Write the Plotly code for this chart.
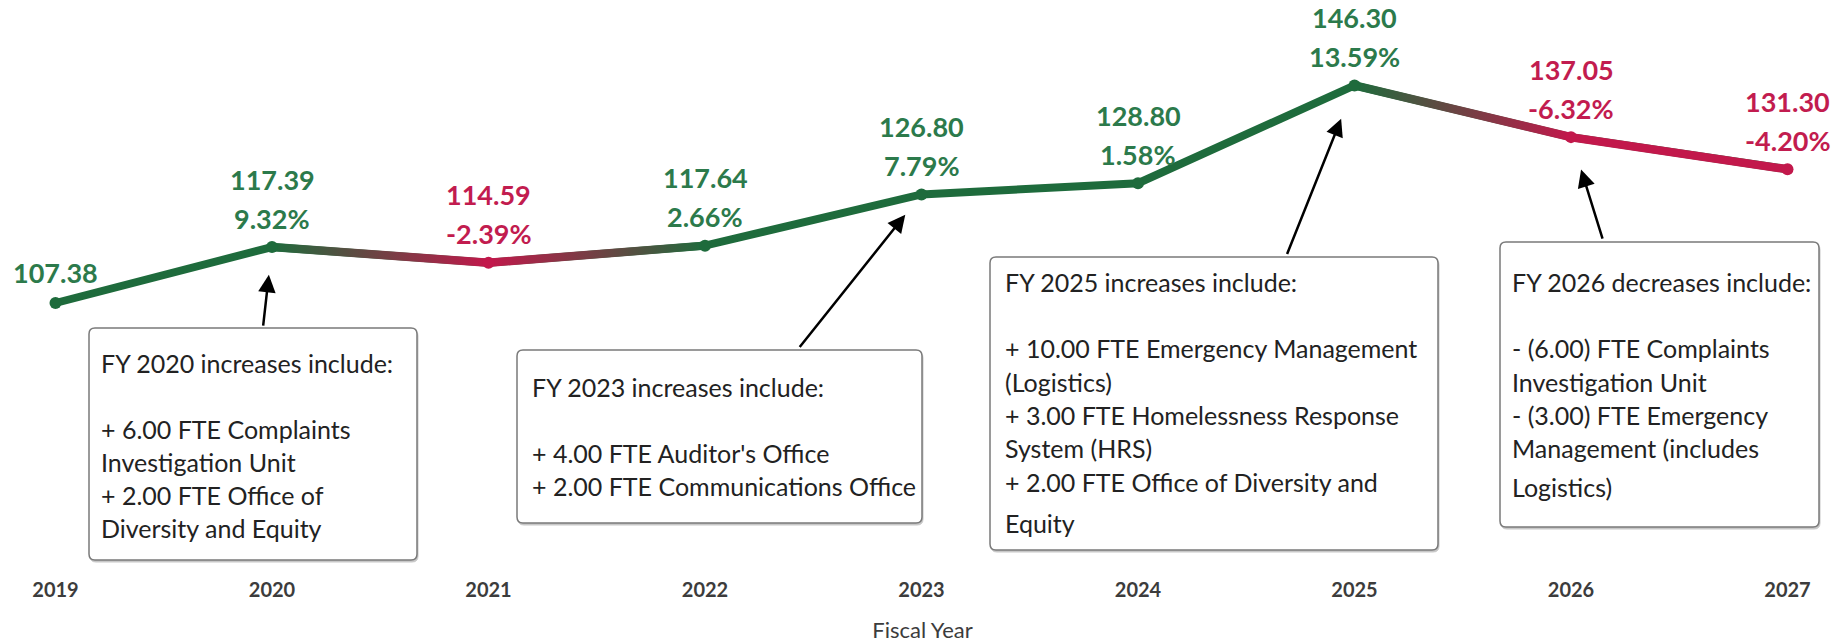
import math
import plotly.graph_objects as go

# ---------------- data ----------------
years = [2019, 2020, 2021, 2022, 2023, 2024, 2025, 2026, 2027]
fte = [107.38, 117.39, 114.59, 117.64, 126.80, 128.80, 146.30, 137.05, 131.30]
pct_change = ["", "9.32%", "-2.39%", "2.66%", "7.79%", "1.58%", "13.59%", "-6.32%", "-4.20%"]
tick_labels = ["2019", "2020", "2021", "2022", "2023", "2024", "2025", "2026", "2027"]
x_title = "Fiscal Year"

note_2020 = ["FY 2020 increases include:", "", "+ 6.00 FTE Complaints", "Investigation Unit",
             "+ 2.00 FTE Office of", "Diversity and Equity"]
note_2023 = ["FY 2023 increases include:", "", "+ 4.00 FTE Auditor's Office",
             "+ 2.00 FTE Communications Office"]
note_2025 = ["FY 2025 increases include:", "", "+ 10.00 FTE Emergency Management", "(Logistics)",
             "+ 3.00 FTE Homelessness Response", "System (HRS)", "+ 2.00 FTE Office of Diversity and",
             "Equity"]
note_2026 = ["FY 2026 decreases include:", "", "- (6.00) FTE Complaints", "Investigation Unit",
             "- (3.00) FTE Emergency", "Management (includes", "Logistics)"]

# ---------------- styling / layout ----------------
W, H = 1845, 643
MB = 73                      # bottom margin (px)
PH = H - MB                  # plot height (px)
X_RANGE = [2018.7436, 2027.2656]
Y_RANGE = [59.62, 161.58]
px_per_unit = PH / (Y_RANGE[1] - Y_RANGE[0])
px_per_year = W / (X_RANGE[1] - X_RANGE[0])

GREEN_LINE = "#1E6B3C"
RED_LINE = "#C2184B"
GREEN_TXT = "#2C7A4B"
RED_TXT = "#C21C4F"
FONT = "Lato"
LABEL_SIZE = 27
NOTE_SIZE = 25

is_down = [p.startswith("-") for p in pct_change]
line_cols = [RED_LINE if d else GREEN_LINE for d in is_down]
txt_cols = [RED_TXT if d else GREEN_TXT for d in is_down]

fig = go.Figure()

# base line (whole series)
fig.add_trace(go.Scatter(x=years, y=fte, mode="lines",
                         line=dict(color=GREEN_LINE, width=8), hoverinfo="skip", showlegend=False))

# coloured / gradient segments drawn over the base line
HALF = 4.2  # half line thickness in px
for i in range(len(years) - 1):
    c0, c1 = line_cols[i], line_cols[i + 1]
    if c0 == GREEN_LINE and c1 == GREEN_LINE:
        continue
    x0, x1 = years[i], years[i + 1]
    y0, y1 = fte[i], fte[i + 1]
    slope_px = (y1 - y0) * px_per_unit / ((x1 - x0) * px_per_year)
    h = HALF * math.sqrt(1 + slope_px ** 2) / px_per_unit
    fig.add_trace(go.Scatter(
        x=[x0, x1, x1, x0, x0], y=[y0 + h, y1 + h, y1 - h, y0 - h, y0 + h],
        mode="lines", line=dict(width=0), fill="toself",
        fillgradient=dict(type="horizontal", colorscale=[[0, c0], [1, c1]]),
        hoverinfo="skip", showlegend=False))

# point markers
fig.add_trace(go.Scatter(x=years, y=fte, mode="markers",
                         marker=dict(color=line_cols, size=12, line=dict(width=0)),
                         hoverinfo="skip", showlegend=False))

annotations = []
# data labels
label_font = lambda c: dict(family=FONT, size=LABEL_SIZE, color=c, weight="bold")
for i, (x, v, p) in enumerate(zip(years, fte, pct_change)):
    if p:
        annotations.append(dict(x=x, y=v, xref="x", yref="y", text=p, showarrow=False,
                                yshift=29, font=label_font(txt_cols[i]),
                                xanchor="center", yanchor="middle"))
        annotations.append(dict(x=x, y=v, xref="x", yref="y", text=f"{v:.2f}", showarrow=False,
                                yshift=68, font=label_font(txt_cols[i]),
                                xanchor="center", yanchor="middle"))
    else:
        annotations.append(dict(x=x, y=v, xref="x", yref="y", text=f"{v:.2f}", showarrow=False,
                                yshift=31, font=label_font(txt_cols[i]),
                                xanchor="center", yanchor="middle"))


def px_x(px):
    return px / W


def px_y(py):
    return (PH - py) / PH


shapes = []


def rounded_box(x0, y0, x1, y1, r=6, **kw):
    pts = (f"M {px_x(x0 + r)},{px_y(y0)} L {px_x(x1 - r)},{px_y(y0)} "
           f"Q {px_x(x1)},{px_y(y0)} {px_x(x1)},{px_y(y0 + r)} "
           f"L {px_x(x1)},{px_y(y1 - r)} Q {px_x(x1)},{px_y(y1)} {px_x(x1 - r)},{px_y(y1)} "
           f"L {px_x(x0 + r)},{px_y(y1)} Q {px_x(x0)},{px_y(y1)} {px_x(x0)},{px_y(y1 - r)} "
           f"L {px_x(x0)},{px_y(y0 + r)} Q {px_x(x0)},{px_y(y0)} {px_x(x0 + r)},{px_y(y0)} Z")
    return dict(type="path", path=pts, xref="paper", yref="paper", layer="above", **kw)


# note boxes: (lines, box rect px, text left px, line y positions px)
notes = [
    (note_2020, (89, 328, 417, 560), 99, [363, 396, 429, 462, 495, 528]),
    (note_2023, (517, 350, 922, 523), 530, [387, 420, 453, 486]),
    (note_2025, (990, 257, 1438, 550), 1003, [282, 315, 348, 382, 415, 448, 482, 523]),
    (note_2026, (1500, 242, 1819, 527), 1510, [282, 315, 348, 382, 415, 448, 487]),
]
for lines, (bx0, by0, bx1, by1), tx, ys in notes:
    shapes.append(rounded_box(bx0 + 1, by0 + 2, bx1 + 1, by1 + 2,
                              fillcolor="#C8C8C8", line=dict(color="#C8C8C8", width=1)))
    shapes.append(rounded_box(bx0, by0, bx1, by1,
                              fillcolor="white", line=dict(color="#7A7A7A", width=1.5)))
    for line, ly in zip(lines, ys):
        if not line:
            continue
        annotations.append(dict(x=px_x(tx), y=px_y(ly), xref="paper", yref="paper", text=line,
                                showarrow=False, xanchor="left", yanchor="middle", align="left",
                                font=dict(family=FONT, size=NOTE_SIZE, color="#222222")))

# arrows from the boxes to the points (index, ax, ay, standoff)
arrows = [(1, -9, 80, 28), (4, -123, 154, 26), (6, -68, 170, 36), (7, 32, 103, 34)]
for idx, ax, ay, so in arrows:
    annotations.append(dict(x=years[idx], y=fte[idx], xref="x", yref="y", text="",
                            showarrow=True, ax=ax, ay=ay, standoff=so,
                            arrowhead=2, arrowsize=1.4, arrowwidth=2.5, arrowcolor="black"))

fig.update_layout(
    width=W, height=H, autosize=False,
    margin=dict(l=0, r=0, t=0, b=MB, pad=0),
    paper_bgcolor="white", plot_bgcolor="white",
    xaxis=dict(range=X_RANGE, tickmode="array", tickvals=years, ticktext=tick_labels,
               showgrid=False, zeroline=False, showline=False, ticks="",
               tickfont=dict(family=FONT, size=20, color="#3C3C3C", weight="bold"),
               ticklabelstandoff=6,
               title=dict(text=x_title, font=dict(family=FONT, size=22, color="#3C3C3C"), standoff=22)),
    yaxis=dict(range=Y_RANGE, visible=False, showgrid=False, zeroline=False),
    annotations=annotations, shapes=shapes, showlegend=False,
)

fig.write_html("out.html", config={"displayModeBar": False},
               post_script="document.body.style.margin='0';")
